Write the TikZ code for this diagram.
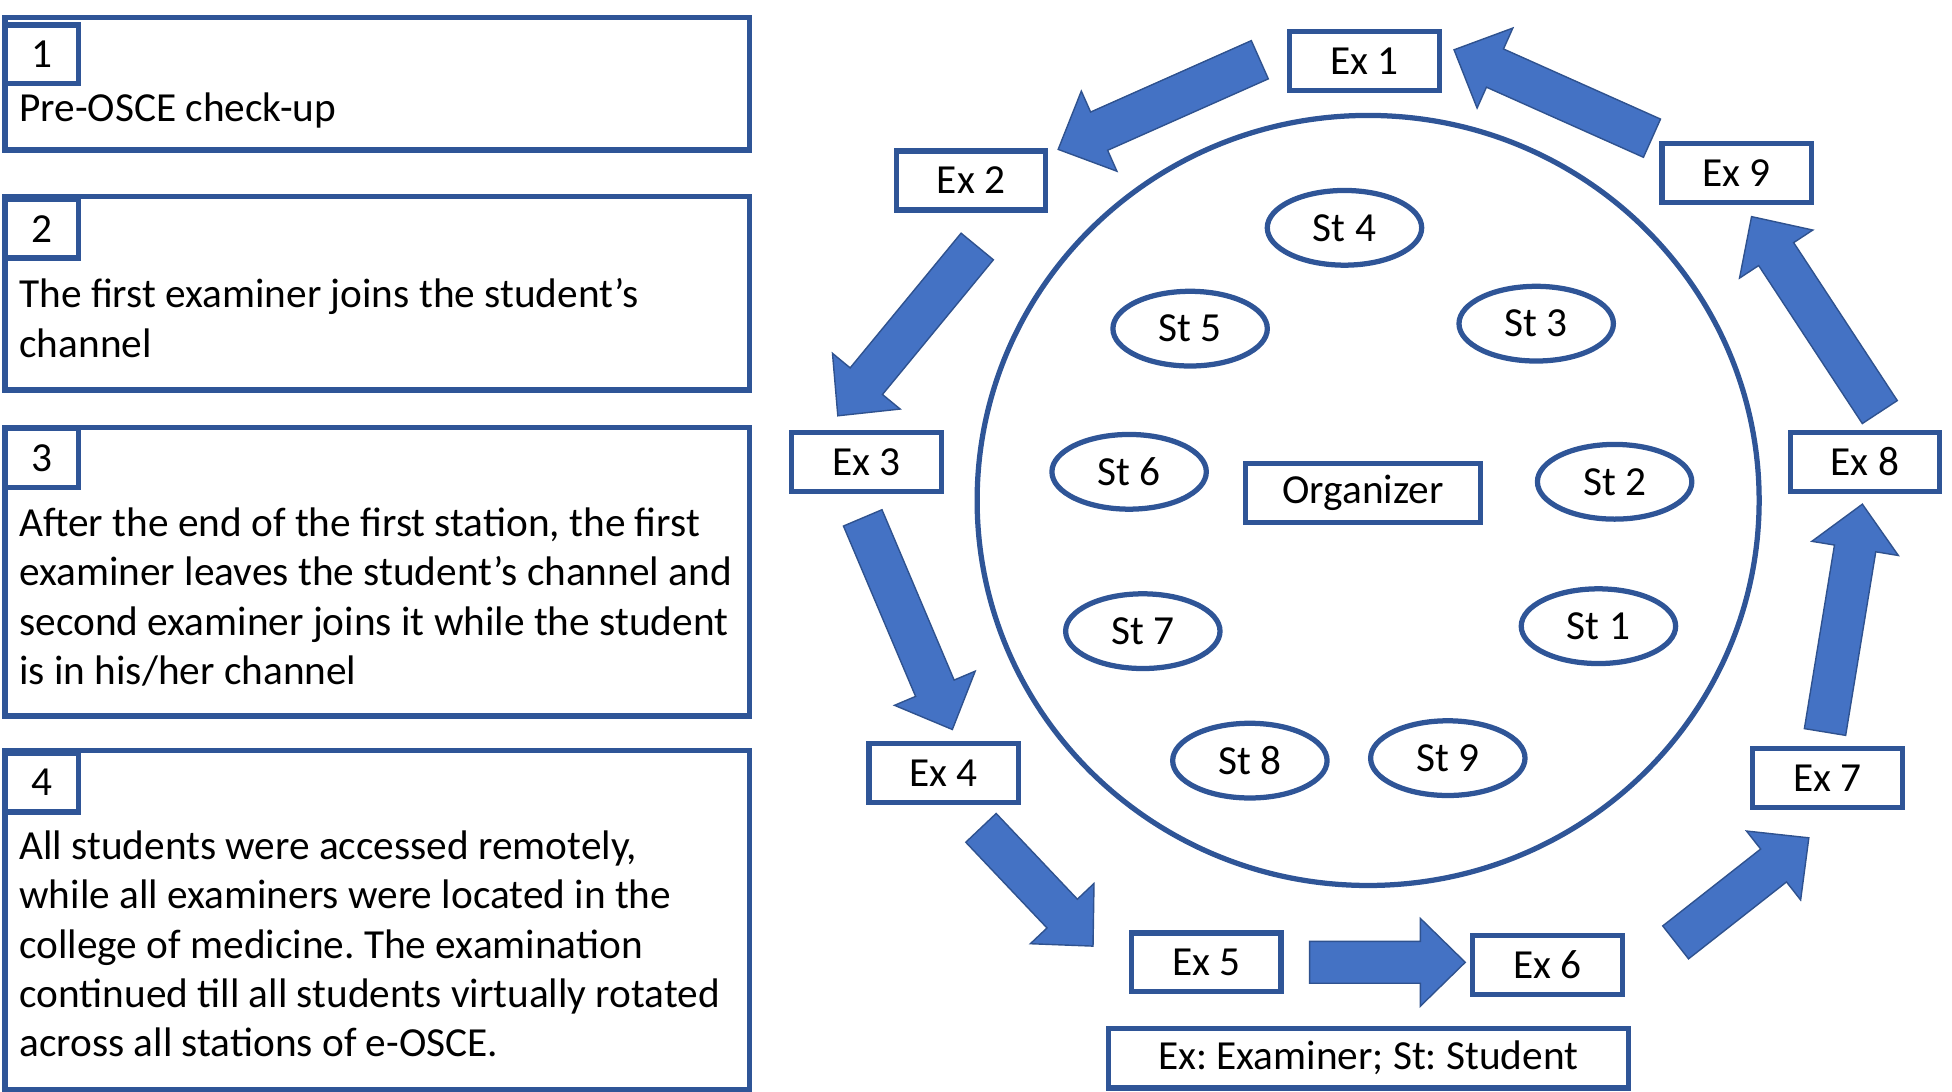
\documentclass[tikz,border=0pt]{standalone}
\usepackage{fontspec}
\setmainfont{Carlito}
\usetikzlibrary{calc}
\usetikzlibrary{shapes.geometric}
\frenchspacing

\definecolor{boxblue}{HTML}{2F5597}
\definecolor{flowfill}{HTML}{4472C4}
\definecolor{flowline}{HTML}{2F528F}

\tikzset{
  exbox/.style={draw=boxblue, line width=1.5pt, fill=white, minimum width=1.5cm, minimum height=0.59cm, inner sep=0pt},
  stud/.style={ellipse, draw=boxblue, line width=1.5pt, minimum width=1.55cm, minimum height=0.75cm, inner sep=0pt},
  panel/.style={draw=boxblue, line width=1.5pt, anchor=north west, minimum width=7.47cm, inner sep=0pt},
  numbox/.style={draw=boxblue, line width=1.5pt, anchor=north west, minimum width=0.74cm, minimum height=0.59cm, inner sep=0pt},
  body/.style={anchor=base west, align=left, inner sep=0pt},
  flow/.style={draw=flowline, fill=flowfill, line width=0.4pt},
}

% block arrow from tail #1 to tip #2
\newcommand{\flowarrow}[2]{%
  \path[flow] let \p1=($(#2)-(#1)$), \n1={atan2(\y1,\x1)} in
    ($(#1)+(\n1+90:0.21cm)$) -- ($(#2)!0.45cm!(#1)+(\n1+90:0.21cm)$)
    -- ($(#2)!0.45cm!(#1)+(\n1+90:0.44cm)$) -- (#2)
    -- ($(#2)!0.45cm!(#1)+(\n1-90:0.44cm)$) -- ($(#2)!0.45cm!(#1)+(\n1-90:0.21cm)$)
    -- ($(#1)+(\n1-90:0.21cm)$) -- cycle;}

\begin{document}
\begin{tikzpicture}[x=0.0125cm, y=-0.0125cm, font=\fontsize{11.8pt}{14.1pt}\selectfont]
\useasboundingbox (0,0) rectangle (1568,877);

% steps on the left (text placed by its last baseline)
\node[panel, minimum height=1.33cm] (p1) at (2,12) {};
\node[numbox] (n1) at (2,18) {1};
\node[body] (t1) at (15,98) {Pre-OSCE check-up};

\node[panel, minimum height=1.94cm] (p2) at (2,156) {};
\node[numbox] (n2) at (2,158) {2};
\node[body] (t2) at (15,287) {The first examiner joins the student’s\\channel};

\node[panel, minimum height=2.9cm] (p3) at (2,341) {};
\node[numbox] (n3) at (2,342) {3};
\node[body] (t3) at (15,550) {After the end of the first station, the first\\examiner leaves the student’s channel and\\second examiner joins it while the student\\is in his/her channel};

\node[panel, minimum height=3.4cm] (p4) at (2,601) {};
\node[numbox] (n4) at (2,603) {4};
\node[body] (t4) at (15,849) {All students were accessed remotely,\\while all examiners were located in the\\college of medicine. The examination\\continued till all students virtually rotated\\across all stations of e-OSCE.};

% room with students
\node[ellipse, draw=boxblue, line width=1.5pt, minimum width=7.85cm, minimum height=7.73cm] (room) at (1099,402) {};
\node[exbox, minimum width=2.36cm] (org) at (1095,396) {Organizer};
\node[stud] (st1) at (1284,503) {St 1};
\node[stud] (st2) at (1297,387) {St 2};
\node[stud] (st3) at (1234,260) {St 3};
\node[stud] (st4) at (1080,183) {St 4};
\node[stud] (st5) at (956,264) {St 5};
\node[stud] (st6) at (907,379) {St 6};
\node[stud] (st7) at (918,507) {St 7};
\node[stud] (st8) at (1004,611) {St 8};
\node[stud] (st9) at (1163,609) {St 9};

% examiners
\node[exbox] (ex1) at (1096,49) {Ex 1};
\node[exbox] (ex2) at (780,145) {Ex 2};
\node[exbox] (ex3) at (696,371) {Ex 3};
\node[exbox] (ex4) at (758,621) {Ex 4};
\node[exbox] (ex5) at (969,773) {Ex 5};
\node[exbox] (ex6) at (1243,775) {Ex 6};
\node[exbox] (ex7) at (1468,625) {Ex 7};
\node[exbox] (ex8) at (1498,371) {Ex 8};
\node[exbox] (ex9) at (1395,139) {Ex 9};
\node[exbox, minimum width=5.22cm, minimum height=0.6cm] (key) at (1099,850) {Ex: Examiner; St: Student};

% rotation
\coordinate (a1s) at (1012,48);  \coordinate (a1e) at (850,120);
\coordinate (a2s) at (785,198);  \coordinate (a2e) at (673,334);
\coordinate (a3s) at (693,416);  \coordinate (a3e) at (765,586);
\coordinate (a4s) at (788,665);  \coordinate (a4e) at (878,760);
\coordinate (a5s) at (1052,773); \coordinate (a5e) at (1177,773);
\coordinate (a6s) at (1346,757); \coordinate (a6e) at (1453,673);
\coordinate (a7s) at (1466,588); \coordinate (a7e) at (1496,405);
\coordinate (a8s) at (1510,331); \coordinate (a8e) at (1407,174);
\coordinate (a9s) at (1327,111); \coordinate (a9e) at (1168,40);
\foreach \i in {1,...,9} {\flowarrow{a\i s}{a\i e}}
\end{tikzpicture}
\end{document}
